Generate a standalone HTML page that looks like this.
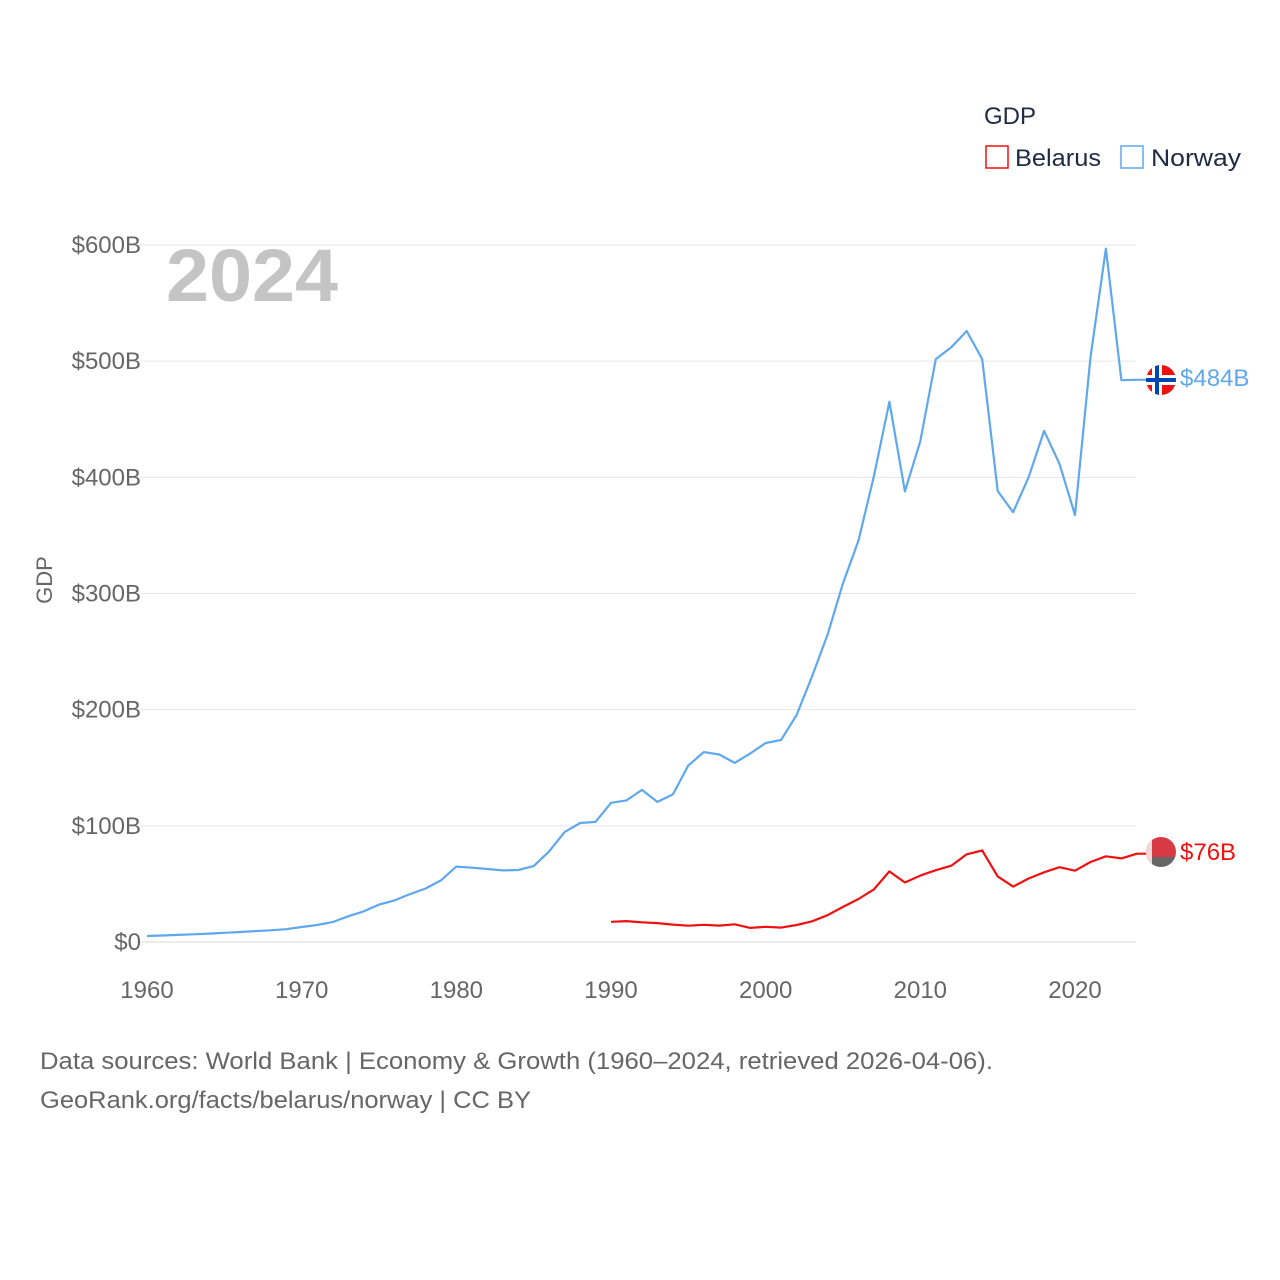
<!DOCTYPE html>
<html><head><meta charset="utf-8">
<style>
body{margin:0;background:#fff;font-family:"Liberation Sans",sans-serif;}
#wrap{position:relative;width:1280px;height:1280px;}
svg{position:absolute;left:0;top:0;}
</style></head>
<body>
<div id="wrap">
<svg id="chart" width="1280" height="1280">
<defs>
<clipPath id="cn"><circle cx="1161" cy="380" r="15"/></clipPath>
<clipPath id="cb"><circle cx="1161" cy="852" r="15"/></clipPath>
</defs>
<g id="grid"></g>
<g id="series"></g>
<text x="166" y="301" font-size="74" font-weight="bold" fill="#c4c4c4" textLength="172" lengthAdjust="spacingAndGlyphs">2024</text>
<text x="52" y="580" font-size="22" fill="#666" transform="rotate(-90 52 580)" text-anchor="middle">GDP</text>
<g>
<text x="984" y="124" font-size="24" fill="#1f2a44">GDP</text>
<rect x="986" y="146" width="22" height="22" fill="none" stroke="#ee1111" stroke-width="1.5"/>
<text x="1015" y="166" font-size="24" fill="#1f2a44" textLength="86" lengthAdjust="spacingAndGlyphs">Belarus</text>
<rect x="1121" y="146" width="22" height="22" fill="none" stroke="#5fa8ee" stroke-width="1.5"/>
<text x="1151" y="166" font-size="24" fill="#1f2a44" textLength="90" lengthAdjust="spacingAndGlyphs">Norway</text>
</g>
<g clip-path="url(#cn)">
<rect x="1146" y="365" width="30" height="30" fill="#ee1111"/>
<rect x="1146" y="375" width="30" height="10" fill="#fff"/>
<rect x="1152" y="365" width="10" height="30" fill="#fff"/>
<rect x="1146" y="378" width="30" height="4" fill="#0047b3"/>
<rect x="1155" y="365" width="4" height="30" fill="#0047b3"/>
</g>
<text x="1180" y="386" font-size="24" fill="#5fa8ee">$484B</text>
<g clip-path="url(#cb)">
<rect x="1146" y="837" width="30" height="20" fill="#d83a45"/>
<rect x="1146" y="857" width="30" height="10" fill="#666"/>
<rect x="1146" y="837" width="6" height="30" fill="#f3d6d8"/>
</g>
<text x="1180" y="860" font-size="24" fill="#ee1111">$76B</text>
<text x="40" y="1069" font-size="24" fill="#666" textLength="953" lengthAdjust="spacingAndGlyphs">Data sources: World Bank | Economy &amp; Growth (1960–2024, retrieved 2026-04-06).</text>
<text x="40" y="1108" font-size="24" fill="#666" textLength="491" lengthAdjust="spacingAndGlyphs">GeoRank.org/facts/belarus/norway | CC BY</text>
</svg>
</div>
<script>
const yTicks=[0,100,200,300,400,500,600];
const yTickLabels=["$0","$100B","$200B","$300B","$400B","$500B","$600B"];
const xTicks=[1960,1970,1980,1990,2000,2010,2020];
const norwayStart=1960;
const norway=[5.2,5.6,6.1,6.6,7.2,7.9,8.6,9.4,10.1,11.0,12.9,14.6,17.1,22.1,26.3,32.2,35.8,41.2,46.0,53.0,64.9,64.0,62.8,61.6,62.0,65.3,78.0,94.6,102.4,103.4,119.8,121.9,130.9,120.6,127.1,151.9,163.5,161.4,154.2,162.3,171.3,174.0,195.4,228.7,264.4,308.9,345.6,401.1,465.0,387.9,431.1,501.8,512.0,526.0,501.7,388.2,370.0,400.0,440.0,411.6,367.6,503.4,596.9,483.6,484.0];
const belarusStart=1990;
const belarus=[17.4,18.0,17.0,16.3,15.0,14.0,14.8,14.1,15.2,12.1,13.1,12.4,14.6,17.8,23.1,30.2,37.0,45.3,60.8,51.2,57.2,61.8,65.7,75.5,78.8,56.5,47.7,54.7,60.0,64.4,61.4,68.9,73.8,72.0,76.0];
const X=y=>147+(y-1960)*(1075-147)/60;
const Y=v=>942-v*(942-245)/600;
const NS="http://www.w3.org/2000/svg";
const grid=document.getElementById('grid');
yTicks.forEach((t,i)=>{
  const l=document.createElementNS(NS,'line');
  l.setAttribute('x1',140);l.setAttribute('x2',1136);
  l.setAttribute('y1',Y(t));l.setAttribute('y2',Y(t));
  l.setAttribute('stroke',i==0?'#d8d8d8':'#e6e6e6');l.setAttribute('stroke-width',1);
  
  
  grid.appendChild(l);
  const tx=document.createElementNS(NS,'text');
  tx.setAttribute('x',141);tx.setAttribute('y',Y(t)+8);
  tx.setAttribute('text-anchor','end');tx.setAttribute('font-size',24);tx.setAttribute('fill','#666');
  tx.textContent=yTickLabels[i];
  
  
  grid.appendChild(tx);
});
xTicks.forEach(t=>{
  const tx=document.createElementNS(NS,'text');
  tx.setAttribute('x',X(t));tx.setAttribute('y',998);
  tx.setAttribute('text-anchor','middle');tx.setAttribute('font-size',24);tx.setAttribute('fill','#666');
  tx.textContent=t;
  
  
  grid.appendChild(tx);
});
const ser=document.getElementById('series');
function line(data,start,color,name){
  const pts=data.map((v,i)=>X(start+i).toFixed(1)+','+Y(v).toFixed(1));
  pts.push('1146,'+Y(data[data.length-1]).toFixed(1));
  const p=document.createElementNS(NS,'polyline');
  p.setAttribute('points',pts.join(' '));
  p.setAttribute('fill','none');p.setAttribute('stroke',color);p.setAttribute('stroke-width',2.2);
  p.setAttribute('stroke-linejoin','round');
  
  
  ser.appendChild(p);
}
line(norway,norwayStart,'#5fa8ee','norway-line');
line(belarus,belarusStart,'#ee1111','belarus-line');
</script>
</body></html>
